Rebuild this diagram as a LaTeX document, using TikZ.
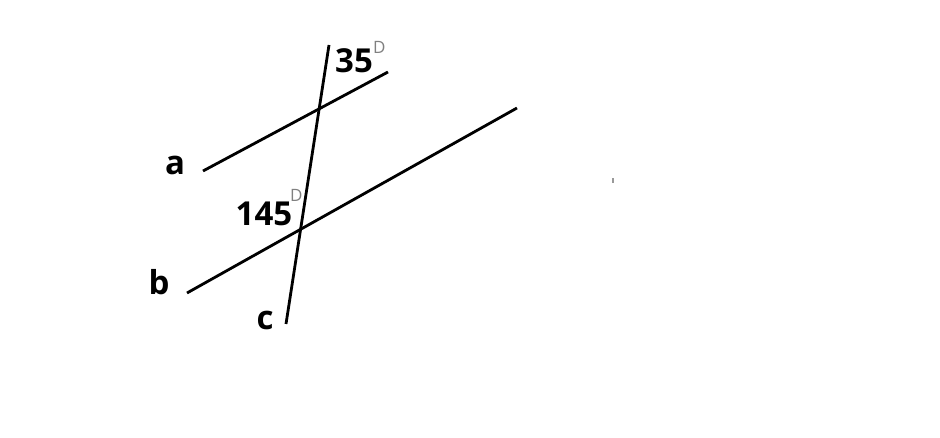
\documentclass[tikz,border=0pt]{standalone}
\usepackage{fontspec}
\setmainfont{Open Sans}
\definecolor{degcol}{gray}{0.5}
\definecolor{tickcol}{gray}{0.6}
\begin{document}
\begin{tikzpicture}[x=1pt,y=-1pt,
  lbl/.style={inner sep=0pt,anchor=base,font=\fontsize{33}{33}\selectfont\bfseries},
  deg/.style={inner sep=0pt,anchor=base west,text=degcol,font=\fontsize{17}{17}\selectfont},
  ln/.style={line width=2.8pt,black}]
\useasboundingbox (0,0) rectangle (940,438);
\coordinate (a1) at (203,171);
\coordinate (a2) at (388,72);
\coordinate (b1) at (187,293);
\coordinate (b2) at (517,108);
\coordinate (c1) at (329,45);
\coordinate (c2) at (286,324);
\draw[ln] (a1) -- (a2);
\draw[ln] (b1) -- (b2);
\draw[ln] (c1) -- (c2);
\node[lbl] (la) at (175,175) {a};
\node[lbl] (lb) at (159,295) {b};
\node[lbl] (lc) at (265,330) {c};
\node[lbl] (n35) at (354,73) {35};
\node[lbl] (n145) at (264,226) {145};
\node[deg] (d1) at (373,54) {D};
\node[deg] (d2) at (290,202) {D};
\fill[tickcol] (612,178) rectangle (614,183);
\end{tikzpicture}
\end{document}
